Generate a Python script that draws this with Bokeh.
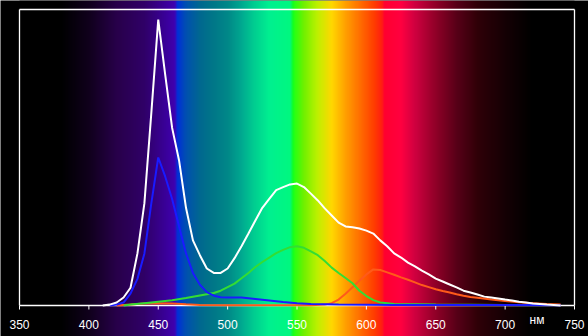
import numpy as np
from bokeh.plotting import figure
from bokeh.core.properties import value
from bokeh.embed import file_html
from bokeh.resources import INLINE

# ---- data ----
white_nm = [410, 415, 420, 425, 430, 435, 440, 445, 450, 455, 460, 465, 470, 475, 480, 485, 490, 495,
            500, 505, 510, 515, 520, 525, 530, 535, 540, 545, 550, 555, 560, 565, 570, 575, 580, 585,
            590, 595, 600, 605, 610, 615, 620, 625, 630, 635, 640, 645, 650, 655, 660, 665, 670, 675,
            680, 685, 690, 695, 700, 705, 710, 715, 720, 725, 730, 735, 740]
white_val = [0.0, 0.003, 0.01, 0.027, 0.06, 0.176, 0.345, 0.65, 0.966, 0.78, 0.60, 0.49, 0.33, 0.22,
             0.17, 0.125, 0.11, 0.11, 0.125, 0.16, 0.2, 0.243, 0.287, 0.33, 0.36, 0.39, 0.40, 0.409,
             0.412, 0.40, 0.378, 0.355, 0.328, 0.304, 0.28, 0.267, 0.264, 0.26, 0.253, 0.243, 0.22,
             0.2, 0.176, 0.162, 0.145, 0.132, 0.118, 0.105, 0.091, 0.081, 0.071, 0.061, 0.05, 0.044,
             0.037, 0.03, 0.027, 0.024, 0.02, 0.017, 0.013, 0.01, 0.007, 0.005, 0.003, 0.002, 0.0]

blue_nm = [415, 420, 425, 430, 435, 440, 445, 450, 455, 460, 465, 470, 475, 480, 485, 490, 495, 500,
           510, 520, 530, 540, 550, 560, 580, 620, 680, 740]
blue_val = [0.0, 0.003, 0.01, 0.04, 0.09, 0.175, 0.345, 0.50, 0.436, 0.36, 0.267, 0.176, 0.11, 0.07,
            0.045, 0.033, 0.028, 0.027, 0.027, 0.022, 0.017, 0.012, 0.008, 0.005, 0.003, 0.002, 0.002, 0.001]

green_nm = [425, 430, 440, 450, 460, 470, 480, 490, 495, 500, 505, 510, 515, 520, 525, 530, 535, 540,
            545, 550, 555, 560, 565, 570, 575, 580, 585, 590, 595, 600, 605, 610, 620, 650, 700]
green_val = [0.0, 0.003, 0.008, 0.013, 0.018, 0.025, 0.034, 0.042, 0.05, 0.062, 0.074, 0.092, 0.11,
             0.13, 0.147, 0.162, 0.177, 0.188, 0.197, 0.2, 0.195, 0.183, 0.17, 0.15, 0.128, 0.11,
             0.093, 0.075, 0.05, 0.032, 0.018, 0.01, 0.005, 0.003, 0.002]

red_nm = [420, 430, 440, 450, 460, 470, 480, 500, 560, 570, 575, 580, 585, 590, 595, 600, 605, 610,
          615, 620, 625, 630, 635, 640, 645, 650, 655, 660, 665, 670, 675, 680, 690, 700, 710, 720,
          730, 740]
red_val = [0.0, 0.003, 0.007, 0.008, 0.007, 0.004, 0.002, 0.001, 0.001, 0.003, 0.008, 0.02, 0.04,
           0.062, 0.084, 0.105, 0.122, 0.12, 0.112, 0.104, 0.095, 0.087, 0.078, 0.069, 0.062, 0.055,
           0.049, 0.044, 0.038, 0.033, 0.029, 0.026, 0.02, 0.015, 0.011, 0.008, 0.005, 0.003]

x_ticks = [350, 400, 450, 500, 550, 600, 650, 700, 750]
x_tick_labels = ["350", "400", "450", "500", "550", "600", "650", "700", "750"]
unit_label = "нм"
unit_label_nm = 723

# spectrum background colour stops (decoration)
spec_nm = [350, 380, 400, 420, 440, 455, 462, 464, 470, 480, 490, 500, 510, 520, 530, 545, 547, 549,
           555, 565, 575, 585, 595, 605, 611, 613, 625, 635, 650, 665, 680, 700, 720, 750]
spec_hex = ["000000", "000000", "10001c", "28004a", "300068", "3a0098", "4000b0", "0030d8", "0050b0",
            "006890", "007888", "008888", "00a890", "00d090", "00f090", "00f880", "10ff20", "30ff10",
            "70f000", "c0f000", "ffd800", "ffa000", "ff7000", "ff4000", "ff2010", "ff0030", "ff0040",
            "d00040", "900028", "580018", "300008", "150004", "000000", "000000"]

# layout: 350..750 nm -> px 19..574 ; value 0..1 -> px 305..9 ; frame = whole canvas
PX_NM = 555 / 400.0
PX_V = 296.0
X0, X1 = 350 - 19 / PX_NM, 750 + 14 / PX_NM
Y0, Y1 = -31 / PX_V, 1 + 9 / PX_V

p = figure(width=588, height=336, x_range=(X0, X1), y_range=(Y0, Y1),
           output_backend="svg", toolbar_location=None,
           min_border_left=0, min_border_right=0, min_border_top=0, min_border_bottom=0)
p.background_fill_color = "black"
p.border_fill_color = "black"
p.outline_line_color = None
p.grid.visible = False
p.xaxis.visible = False
p.yaxis.visible = False

# spectrum image (covers full height between the frame lines)
cols = np.arange(350, 750, 0.5) + 0.25
rgb = np.array([[int(h[i:i + 2], 16) for i in (0, 2, 4)] for h in spec_hex], dtype=float)
img = np.zeros((1, len(cols)), dtype=np.uint32)
view = img.view(dtype=np.uint8).reshape((1, len(cols), 4))
for k in range(3):
    view[0, :, k] = np.interp(cols, spec_nm, rgb[:, k]).astype(np.uint8)
view[0, :, 3] = 255
p.image_rgba(image=[img], x=350, y=Y0, dw=400, dh=Y1 - Y0)

# frame lines
p.segment(x0=[350, 750, 350, 350], y0=[0, 0, 1, 0], x1=[350, 750, 750, 750], y1=[1, 1, 1, 0],
          line_color="white", line_width=1.3)
# tick marks
p.segment(x0=x_ticks, y0=[0] * len(x_ticks), x1=x_ticks, y1=[-4 / PX_V] * len(x_ticks),
          line_color="white", line_width=1)
# tick labels
p.text(x=x_ticks, y=[-19 / PX_V] * len(x_ticks), text=x_tick_labels, text_color="white",
       text_font=value("Liberation Sans"), text_font_size="12px",
       text_align="center", text_baseline="middle")
p.text(x=[unit_label_nm], y=[-14 / PX_V], text=[unit_label], text_color="white",
       text_font=value("Liberation Sans"), text_font_size="12px",
       text_align="center", text_baseline="middle")

p.line(red_nm, red_val, line_color="#ff5a1a", line_width=2)
p.line(green_nm, green_val, line_color="#33dd33", line_width=2)
p.line(blue_nm, blue_val, line_color="#1a1aff", line_width=2)
p.line(white_nm, white_val, line_color="white", line_width=2)

open("out.html", "w").write(file_html(p, INLINE))
